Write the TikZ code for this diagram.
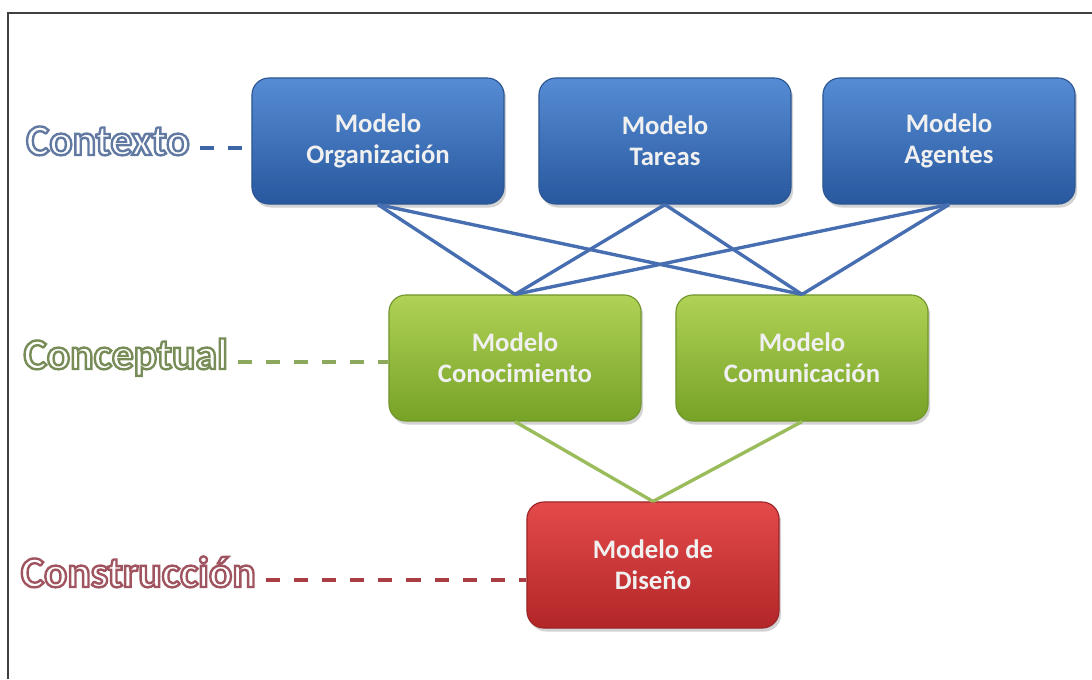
\documentclass[tikz,border=0pt]{standalone}
\usepackage{fontspec}
\setmainfont{Carlito}
\usetikzlibrary{positioning, shadows}

\definecolor{azularriba}{RGB}{86,140,212}
\definecolor{azulabajo}{RGB}{40,88,158}
\definecolor{azulborde}{RGB}{44,86,146}
\definecolor{verdearriba}{RGB}{176,210,86}
\definecolor{verdeabajo}{RGB}{118,162,38}
\definecolor{verdeborde}{RGB}{112,150,44}
\definecolor{rojoarriba}{RGB}{228,74,74}
\definecolor{rojoabajo}{RGB}{178,38,40}
\definecolor{rojoborde}{RGB}{156,36,40}
\definecolor{lineaazul}{RGB}{70,110,176}
\definecolor{lineaverde}{RGB}{155,188,90}
\definecolor{guionazul}{RGB}{62,102,166}
\definecolor{guionverde}{RGB}{140,168,92}
\definecolor{guionrojo}{RGB}{168,62,68}

% texto blanco con contorno de color (modo de trazado 2 del PDF)
\newcommand\contorno[2]{%
  \special{pdf:literal direct 2 Tr 1.7 w 1 1 1 rg #1 RG}#2%
  \special{pdf:literal direct 0 Tr}}

\begin{document}
\begin{tikzpicture}[
  x=0.025cm, y=-0.025cm,
  modelo/.style={
    line width=0.8pt,
    rounded corners=12pt,
    align=center,
    minimum width=6.3cm,
    minimum height=3.15cm,
    text=white!94!black,
    font=\bfseries\fontsize{19}{22}\selectfont,
    drop shadow={opacity=0.35, shadow xshift=1.5pt, shadow yshift=-2.5pt}
  },
  azul/.style={modelo, draw=azulborde, top color=azularriba, bottom color=azulabajo},
  verde/.style={modelo, draw=verdeborde, top color=verdearriba, bottom color=verdeabajo},
  rojo/.style={modelo, draw=rojoborde, top color=rojoarriba, bottom color=rojoabajo},
  capa/.style={
    anchor=east,
    inner sep=0pt,
    text height=10pt,
    text depth=0pt,
    text=white,
    font=\bfseries\fontsize{31}{33}\selectfont
  },
  guion/.style={
    line width=3pt,
    dash pattern=on 10pt off 10pt,
    shorten <=7pt
  },
  enlace/.style={line width=2.4pt}
]
  \useasboundingbox (0,0) rectangle (1092,679);

  % Marco
  \draw[line width=1.5pt, black!75] (8,679) -- (8,13) -- (1092,13);

  % Nivel de contexto
  \node[azul] (org) at (378,141) {Modelo\\Organización};
  \node[azul] (tar) at (665,141) {Modelo\\Tareas};
  \node[azul] (age) at (949,141) {Modelo\\Agentes};

  % Nivel conceptual
  \node[verde] (con) at (515,358) {Modelo\\Conocimiento};
  \node[verde] (com) at (802,358) {Modelo\\Comunicación};

  % Nivel de construcción
  \node[rojo] (dis) at (653,565) {Modelo de\\Diseño};

  % Etiquetas de los niveles
  \node[capa] (ctx) at (190,148) {\contorno{0.384 0.478 0.635}{Contexto}};
  \node[capa] (cpt) at (228,362) {\contorno{0.471 0.549 0.345}{Conceptual}};
  \node[capa] (cst) at (256,580) {\contorno{0.627 0.329 0.376}{Construcción}};

  \draw[guion, guionazul] (ctx.east) -- (org.west |- ctx.east);
  \draw[guion, guionverde] (cpt.east) -- (con.west |- cpt.east);
  \draw[guion, guionrojo] (cst.east) -- (dis.west |- cst.east);

  % Enlaces entre modelos
  \foreach \arriba in {org, tar, age} {
    \foreach \abajo in {con, com} {
      \draw[enlace, lineaazul] (\arriba.south) -- (\abajo.north);
    }
  }
  \draw[enlace, lineaverde] (con.south) -- (dis.north);
  \draw[enlace, lineaverde] (com.south) -- (dis.north);
\end{tikzpicture}
\end{document}
